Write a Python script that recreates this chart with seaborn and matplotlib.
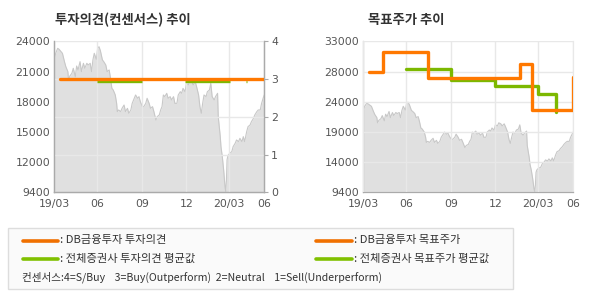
import numpy as np
import pandas as pd
import matplotlib
matplotlib.use("Agg")
import matplotlib.pyplot as plt
import seaborn as sns
from matplotlib.lines import Line2D
from matplotlib.patches import Rectangle

sns.set_style("white")
plt.rcParams['font.family'] = ['Noto Sans CJK KR', 'DejaVu Sans']

# ---------------- data ----------------
# trading-day index (0 = 19/03 ... 310 = 20/06) and closing price
price_day = [0, 2, 5, 7, 10, 12, 15, 17, 20, 21, 23, 26, 28, 31, 33, 35, 38, 40, 43, 45,
             48, 50, 53, 55, 57, 59, 62, 64, 66, 68, 71, 73, 76, 78, 81, 83, 85, 87, 90, 92,
             93, 95, 98, 100, 103, 105, 108, 110, 113, 115, 118, 120, 123, 125, 127, 130, 132, 135, 137, 140,
             142, 145, 147, 150, 152, 155, 157, 159, 161, 163, 166, 168, 171, 173, 176, 178, 181, 183, 186, 188,
             190, 193, 195, 198, 200, 203, 205, 208, 210, 213, 215, 217, 219, 221, 224, 226, 229, 231, 233, 236,
             238, 241, 242, 245, 246, 248, 250, 252, 253, 254, 255, 256, 257, 259, 262, 264, 267, 269, 272, 274,
             277, 279, 281, 284, 286, 289, 291, 294, 296, 299, 301, 304, 306, 309, 310]
price_val = [22200, 22840, 23320, 23230, 23000, 22840, 22030, 21550, 21070, 20260, 20650, 20910, 21390, 20580, 21610, 21230, 22030, 21070, 21870, 21390,
             21870, 21710, 21870, 21070, 22200, 22840, 22260, 23320, 23480, 23100, 22200, 22030, 21710, 21070, 21230, 20420, 19450, 19290, 18810, 18000,
             17200, 17360, 17200, 17520, 17840, 17200, 17520, 17040, 17360, 18000, 18490, 18810, 18490, 18650, 18170, 17680, 17680, 18000, 18490, 18000,
             17520, 17680, 17200, 16390, 16720, 16880, 17360, 17680, 18810, 18650, 18970, 18490, 18650, 18330, 18650, 18000, 18000, 18810, 19130, 18970,
             19450, 19130, 19940, 19780, 20260, 20100, 19780, 20100, 19620, 18810, 17680, 17040, 18000, 18810, 18650, 19130, 19290, 19940, 18650, 18330,
             18650, 18970, 16720, 14780, 13820, 12850, 11560, 9950, 9470, 10430, 12530, 12850, 13010, 13170, 13330, 13820, 14140, 14460, 14300, 14620,
             14300, 14780, 14300, 15270, 15750, 15910, 16230, 16550, 16880, 17200, 17360, 17360, 18000, 18650, 18810]

# investment opinion (consensus scale 0-4)
db_op_day = [8, 310]
db_op_val = [3, 3]
avg_op_day = [63, 130, np.nan, 193, 259, np.nan, 283, 285]
avg_op_val = [2.96, 2.96, np.nan, 2.96, 2.96, np.nan, 2.96, 2.96]

# target price (step changes)
db_tp_day = [8, 29, 96, 231, 249, 310]
db_tp_val = [28200, 31400, 27300, 29400, 22300, 27400]
avg_tp_day = [63, 130, 195, 258, 285]
avg_tp_val = [28700, 26900, 26000, 24800, 21900]

xtick_pos = [0, 63, 130, 195, 258, 310]
xtick_lab = ["19/03", "06", "09", "12", "20/03", "06"]
left_ylab = ["9400", "12000", "15000", "18000", "21000", "24000"]
right_ylab = ["9400", "14000", "19000", "24000", "28000", "33000"]
op_ticks = [0, 1, 2, 3, 4]

titles = ["투자의견(컨센서스) 추이", "목표주가 추이"]
legend_txt = [": DB금융투자 투자의견", ": 전체증권사 투자의견 평균값",
              ": DB금융투자 목표주가", ": 전체증권사 목표주가 평균값"]
consensus_txt = "컨센서스:4=S/Buy    3=Buy(Outperform)  2=Neutral    1=Sell(Underperform)"

# ---------------- styling ----------------
ORANGE = "#ff7800"
GREEN = "#7cb800"
FILL = "#e0e0e0"
EDGE = "#c8c8c8"
GRID = "#e8e8e8"
SPINE = "#aaaaaa"
TICKC = "#555555"
TICKFS = 7.8

W, H = 590, 300
fig = plt.figure(figsize=(W / 100, H / 100), dpi=100)
fig.patch.set_facecolor("white")

price_df = pd.DataFrame({"day": price_day, "price": price_val})


def base_axes(ax, ymin, ymax, labels):
    ax.set_xlim(0, 310)
    ax.set_ylim(ymin, ymax)
    ax.fill_between(price_df["day"], ymin, price_df["price"], color=FILL, lw=0, zorder=1)
    sns.lineplot(data=price_df, x="day", y="price", ax=ax, color=EDGE, lw=0.8,
                 estimator=None, sort=False, zorder=1.5)
    ax.set_yticks(np.linspace(ymin, ymax, 6))
    ax.set_yticklabels(labels)
    ax.set_xticks(xtick_pos)
    ax.set_xticklabels(xtick_lab)
    ax.set_xlabel("")
    ax.set_ylabel("")
    ax.tick_params(axis="both", labelsize=TICKFS, labelcolor=TICKC, colors=SPINE)
    ax.tick_params(axis="y", length=0, pad=3)
    ax.tick_params(axis="x", length=3, pad=1.5, width=0.8)
    for lab in ax.get_xticklabels() + ax.get_yticklabels():
        lab.set_family("DejaVu Sans")
    ax.spines["top"].set_visible(False)
    for s in ["left", "bottom", "right"]:
        ax.spines[s].set_color(SPINE)
        ax.spines[s].set_linewidth(0.9)
    ax.set_facecolor("none")


# ---------------- left chart ----------------
axL = fig.add_axes([54.3 / W, 1 - 192.3 / H, 210 / W, 151 / H])
base_axes(axL, 9400, 24000, left_ylab)
axL.grid(axis="x", color=GRID, lw=1)
axL.set_axisbelow(False)
for gl in axL.get_xgridlines():
    gl.set_zorder(2)

axR2 = axL.twinx()
axR2.set_ylim(0, 4)
axR2.set_yticks(op_ticks)
axR2.set_yticklabels([str(t) for t in op_ticks])
axR2.tick_params(axis="y", labelsize=TICKFS, labelcolor=TICKC, colors=SPINE, length=3, pad=2)
for lab in axR2.get_yticklabels():
    lab.set_family("DejaVu Sans")
axR2.grid(axis="y", color=GRID, lw=1)
axR2.spines["top"].set_visible(False)
for s in ["left", "bottom", "right"]:
    axR2.spines[s].set_color(SPINE)
    axR2.spines[s].set_linewidth(0.9)
axR2.plot(avg_op_day, avg_op_val, color=GREEN, lw=2.4, solid_capstyle="butt", zorder=3)
sns.lineplot(x=db_op_day, y=db_op_val, ax=axR2, color=ORANGE, lw=2.4, estimator=None, zorder=4)
axR2.set_ylabel("")

# ---------------- right chart ----------------
axT = fig.add_axes([363.3 / W, 1 - 192.3 / H, 210 / W, 151 / H])
base_axes(axT, 9400, 33000, right_ylab)
axT.spines["right"].set_color(GRID)
axT.grid(axis="both", color=GRID, lw=1)
axT.set_axisbelow(False)
for gl in axT.get_xgridlines() + axT.get_ygridlines():
    gl.set_zorder(2)
sns.lineplot(x=avg_tp_day, y=avg_tp_val, ax=axT, color=GREEN, lw=2.4,
             estimator=None, drawstyle="steps-post", zorder=3)
sns.lineplot(x=db_tp_day, y=db_tp_val, ax=axT, color=ORANGE, lw=2.4,
             estimator=None, drawstyle="steps-post", zorder=4)
axT.set_xlabel("")
axT.set_ylabel("")

# ---------------- titles ----------------
fig.text(55 / W, 1 - 20 / H, titles[0], fontsize=9.6, fontweight="bold", color="#333333", va="center")
fig.text(368 / W, 1 - 20 / H, titles[1], fontsize=9.6, fontweight="bold", color="#333333", va="center")

# ---------------- legend box ----------------
fig.patches.append(Rectangle((8 / W, 1 - 289 / H), 505 / W, 61 / H, transform=fig.transFigure,
                             facecolor="#fafafa", edgecolor="#dddddd", lw=1))
rows_y = [240.5, 258.5]
for i, (col, yy) in enumerate(zip([ORANGE, GREEN], rows_y)):
    for x0, x1, tx, txt in [(23, 58, 60, legend_txt[i]), (316, 352, 354, legend_txt[i + 2])]:
        fig.lines.append(Line2D([x0 / W, x1 / W], [1 - yy / H, 1 - yy / H], transform=fig.transFigure,
                                color="#f07000" if col == ORANGE else "#80c000", lw=2.6))
        fig.text(tx / W, 1 - yy / H, txt, fontsize=8.1, color="#333333", va="center")
fig.text(22 / W, 1 - 277 / H, consensus_txt, fontsize=7.6, color="#333333", va="center")

fig.savefig("out.png", dpi=100, facecolor="white")
